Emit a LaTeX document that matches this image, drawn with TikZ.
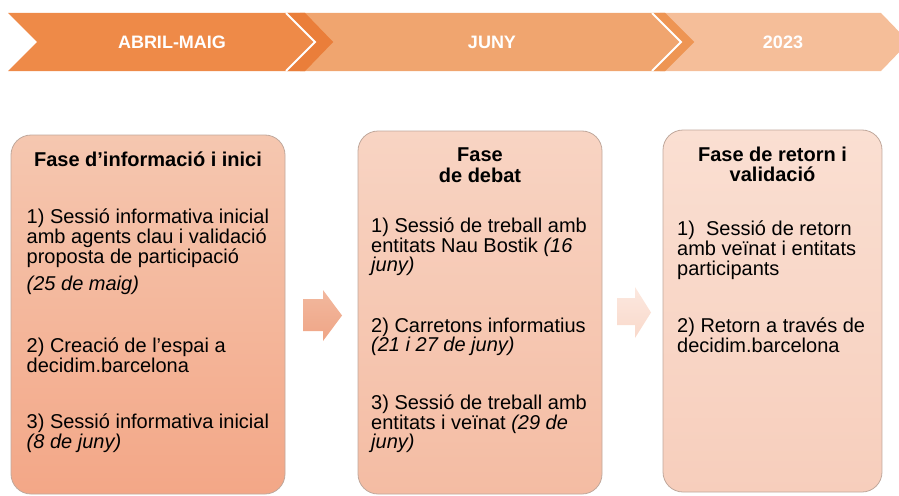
\documentclass[tikz,border=0pt]{standalone}
\usepackage{fontspec}
\setmainfont{Liberation Sans}
\definecolor{chevA}{HTML}{EE8A48}
\definecolor{bandA}{HTML}{EA7E3A}
\definecolor{chevB}{HTML}{F0A56F}
\definecolor{bandB}{HTML}{EE9553}
\definecolor{chevC}{HTML}{F5BE99}
\definecolor{boxAtop}{HTML}{F5C7B0}
\definecolor{boxAbot}{HTML}{F3A787}
\definecolor{boxBtop}{HTML}{F8D4C3}
\definecolor{boxBbot}{HTML}{F4BCA3}
\definecolor{boxCtop}{HTML}{FADFD2}
\definecolor{boxCbot}{HTML}{F7CEBC}
\definecolor{boxedge}{HTML}{C0A89C}
\definecolor{arrAtop}{HTML}{F2B89E}
\definecolor{arrAbot}{HTML}{EFA586}
\definecolor{arrBtop}{HTML}{FCE8DF}
\definecolor{arrBbot}{HTML}{F9D9CB}
\begin{document}
\begin{tikzpicture}[x=1pt,y=-1pt,
  bannertxt/.style={text=white, inner sep=0pt, font=\fontsize{18}{18}\selectfont\bfseries},
  bodytxt/.style={anchor=base west, inner sep=0pt, font=\fontsize{20}{20}\selectfont},
  ttltxt/.style={anchor=base, inner sep=0pt, font=\fontsize{20}{20}\selectfont\bfseries},
  phasebox/.style={draw=boxedge, line width=0.8pt, rounded corners=20pt, inner sep=0pt},
  sep/.style={white, line width=1.8pt}]
\useasboundingbox (0,0) rectangle (899,495);
\begin{scope}
\clip (0,0) rectangle (899,495);
% banner chevrons
\fill[chevC] (660,13) -- (881,13) -- (909,42) -- (881,71) -- (660,71) -- cycle;
\fill[chevB] (300,13) -- (665,13) -- (694,42) -- (665,71) -- (300,71) -- cycle;
\fill[bandB] (652,13) -- (665,13) -- (694,42) -- (665,71) -- (652,71) -- (681,42) -- cycle;
\fill[chevA] (8,13) -- (305,13) -- (333,42) -- (305,71) -- (8,71) -- (37,42) -- cycle;
\fill[bandA] (287,13) -- (305,13) -- (333,42) -- (305,71) -- (287,71) -- (315,42) -- cycle;
\draw[sep] (286,13) -- (315,42) -- (286,71);
\draw[sep] (652,13) -- (681,42) -- (652,71);
\end{scope}
\node[bannertxt] (t1) at (172,42) {ABRIL-MAIG};
\node[bannertxt] (t2) at (492,42) {JUNY};
\node[bannertxt] (t3) at (783,42) {2023};
% phase boxes
\node[phasebox, top color=boxAtop, bottom color=boxAbot, minimum width=274pt, minimum height=359pt] (b1) at (148,314.5) {};
\node[phasebox, top color=boxBtop, bottom color=boxBbot, minimum width=244pt, minimum height=363pt] (b2) at (480,312.5) {};
\node[phasebox, top color=boxCtop, bottom color=boxCbot, minimum width=219pt, minimum height=362pt] (b3) at (772.5,311) {};
% block arrows
\shade[top color=arrAtop, bottom color=arrAbot] (303,299) -- (323,299) -- (323,290) -- (342,315.5) -- (323,341) -- (323,331) -- (303,331) -- cycle;
\shade[top color=arrBtop, bottom color=arrBbot] (617,298) -- (635,298) -- (635,287) -- (651,312.5) -- (635,338) -- (635,325) -- (617,325) -- cycle;
% box 1 text
\node[ttltxt] (h1) at (148,166) {Fase d’informació i inici};
\node[bodytxt] (p1a) at (26.5,223) {1) Sessió informativa inicial};
\node[bodytxt] (p1b) at (26.5,243) {amb agents clau i validació};
\node[bodytxt] (p1c) at (26.5,263) {proposta de participació};
\node[bodytxt] (p1d) at (26.5,290) {\itshape (25 de maig)};
\node[bodytxt] (p1e) at (26.5,352) {2) Creació de l’espai a};
\node[bodytxt] (p1f) at (26.5,372) {decidim.barcelona};
\node[bodytxt] (p1g) at (26.5,428) {3) Sessió informativa inicial};
\node[bodytxt] (p1h) at (26.5,448) {\itshape (8 de juny)};
% box 2 text
\node[ttltxt] (h2a) at (480,161) {Fase};
\node[ttltxt] (h2b) at (480,182) {de debat};
\node[bodytxt] (p2a) at (371,232) {1) Sessió de treball amb};
\node[bodytxt] (p2b) at (371,252) {entitats Nau Bostik \textit{(16}};
\node[bodytxt] (p2c) at (371,271) {\itshape juny)};
\node[bodytxt] (p2d) at (371,332) {2) Carretons informatius};
\node[bodytxt] (p2e) at (371,351) {\itshape (21 i 27 de juny)};
\node[bodytxt] (p2f) at (371,409) {3) Sessió de treball amb};
\node[bodytxt] (p2g) at (371,429) {entitats i veïnat \textit{(29 de}};
\node[bodytxt] (p2h) at (371,448) {\itshape juny)};
% box 3 text
\node[ttltxt] (h3a) at (772.5,161) {Fase de retorn i};
\node[ttltxt] (h3b) at (772.5,181) {validació};
\node[bodytxt] (p3a) at (677,235) {1)~~Sessió de retorn};
\node[bodytxt] (p3b) at (677,255) {amb veïnat i entitats};
\node[bodytxt] (p3c) at (677,275) {participants};
\node[bodytxt] (p3d) at (677,332) {2) Retorn a través de};
\node[bodytxt] (p3e) at (677,352) {decidim.barcelona};
\end{tikzpicture}
\end{document}
